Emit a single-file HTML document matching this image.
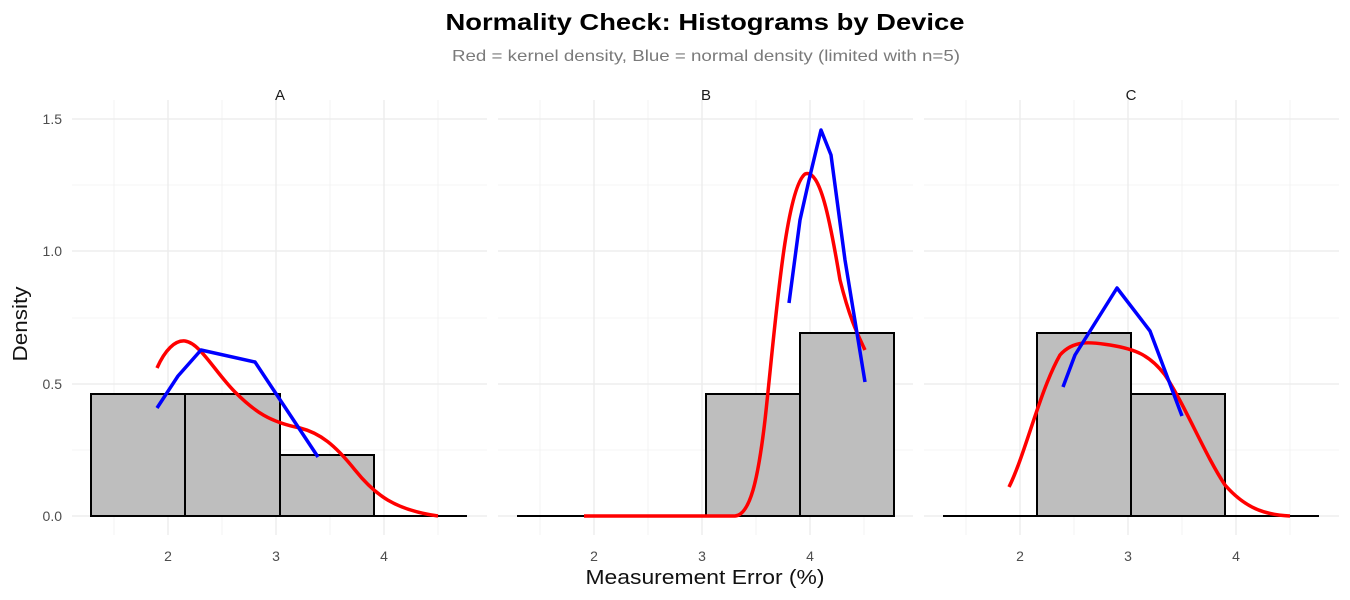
<!DOCTYPE html>
<html><head><meta charset="utf-8"><style>body{margin:0;background:#fff}svg{display:block;font-family:"Liberation Sans",sans-serif}</style></head><body>
<svg width="1350" height="600" viewBox="0 0 1350 600">
<rect width="1350" height="600" fill="#fff"/>
<text x="705" y="30" text-anchor="middle" font-size="23" font-weight="bold" textLength="519" lengthAdjust="spacingAndGlyphs">Normality Check: Histograms by Device</text>
<text x="706" y="61" text-anchor="middle" font-size="16" fill="#7a7a7a" textLength="508" lengthAdjust="spacingAndGlyphs">Red = kernel density, Blue = normal density (limited with n=5)</text>
<g id="grid" stroke="#ebebeb" fill="none">
<g stroke-width="0.6">
<line x1="72" x2="487" y1="450" y2="450"/><line x1="72" x2="487" y1="318" y2="318"/><line x1="72" x2="487" y1="185" y2="185"/>
<line x1="114" x2="114" y1="100" y2="535"/><line x1="222" x2="222" y1="100" y2="535"/><line x1="330" x2="330" y1="100" y2="535"/><line x1="438" x2="438" y1="100" y2="535"/>
</g>
<g stroke-width="1.3">
<line x1="72" x2="487" y1="516" y2="516"/><line x1="72" x2="487" y1="384" y2="384"/><line x1="72" x2="487" y1="251" y2="251"/><line x1="72" x2="487" y1="119" y2="119"/>
<line x1="168" x2="168" y1="100" y2="535"/><line x1="276" x2="276" y1="100" y2="535"/><line x1="384" x2="384" y1="100" y2="535"/>
</g>
</g>
<use href="#grid" x="426"/><use href="#grid" x="852"/>
<g font-size="14" fill="#4d4d4d" text-anchor="end">
<text x="62" y="521">0.0</text><text x="62" y="389">0.5</text><text x="62" y="256">1.0</text><text x="62" y="124">1.5</text>
</g>
<g font-size="14" fill="#4d4d4d" text-anchor="middle">
<text x="168" y="561">2</text><text x="276" y="561">3</text><text x="384" y="561">4</text>
<text x="594" y="561">2</text><text x="702" y="561">3</text><text x="810" y="561">4</text>
<text x="1020" y="561">2</text><text x="1128" y="561">3</text><text x="1236" y="561">4</text>
</g>
<g font-size="15" fill="#1a1a1a" text-anchor="middle">
<text x="280" y="100">A</text><text x="706" y="100">B</text><text x="1131" y="100">C</text>
</g>
<text x="705" y="584" text-anchor="middle" font-size="20" fill="#111" textLength="239" lengthAdjust="spacingAndGlyphs">Measurement Error (%)</text>
<text x="27" y="324" text-anchor="middle" font-size="20" fill="#111" transform="rotate(-90 27 324)" textLength="75" lengthAdjust="spacingAndGlyphs">Density</text>
<g fill="#bebebe" stroke="#000" stroke-width="2">
<line x1="91" x2="467" y1="516" y2="516"/><line x1="517" x2="893" y1="516" y2="516"/><line x1="943" x2="1319" y1="516" y2="516"/>
<rect x="91" y="394" width="94" height="122"/><rect x="185" y="394" width="95" height="122"/><rect x="280" y="455" width="94" height="61"/>
<rect x="706" y="394" width="94" height="122"/><rect x="800" y="333" width="94" height="183"/>
<rect x="1037" y="333" width="94" height="183"/><rect x="1131" y="394" width="94" height="122"/>
</g>
<g fill="none" stroke-width="3.5" stroke-linejoin="round">
<path stroke="#f00" d="M157,368 C165,350 175,340 185,341 C200,343 215,372 235,392 C255,412 270,422 300,428 C320,433 335,445 355,470 C375,495 395,510 438,516"/>
<path stroke="#00f" d="M157,408 L178,376 L201,350 L255,362 L318,457"/>
<path stroke="#f00" d="M584,516 L735,516 C750,515 758,480 765,420 C775,330 785,190 805,174 C820,168 830,220 840,280 C850,320 858,335 865,350"/>
<path stroke="#00f" d="M789,303 L800,220 L809,180 L821,130 L831,155 L845,260 L865,382"/>
<path stroke="#f00" d="M1009,487 C1025,455 1040,390 1060,355 C1075,338 1095,343 1110,345 C1135,349 1150,355 1165,375 C1185,405 1205,455 1225,485 C1245,508 1265,515 1290,516"/>
<path stroke="#00f" d="M1063,387 L1075,355 L1117,288 L1150,331 L1182,416"/>
</g>
</svg>
</body></html>
